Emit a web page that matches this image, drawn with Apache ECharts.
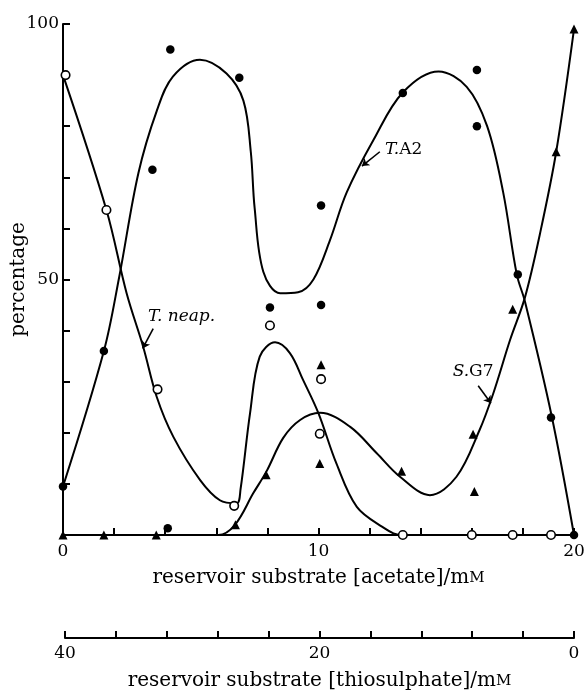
<!DOCTYPE html>
<html>
<head>
<meta charset="utf-8">
<script src="https://cdn.jsdelivr.net/npm/echarts@6/dist/echarts.min.js"></script>
<style>
html,body{margin:0;padding:0;background:#fff;}
#c{width:584px;height:694px;}
</style>
</head>
<body>
<div id="c"></div>
<script>
// ---- data ----
// measured points: [acetate mM, percentage]
var ta2Points = [[0,9.5],[1.6,36],[3.5,71.5],[4.1,1.3],[4.2,95],[6.9,89.5],[8.1,44.5],[10.1,45],[10.1,64.5],[13.3,86.5],[16.2,91],[16.2,80],[17.8,51],[19.1,23],[20,0]];
var neapPoints = [[0.1,90],[1.7,63.6],[3.7,28.5],[6.7,5.7],[8.1,41],[10.1,30.5],[10.05,19.8],[13.3,0],[16.0,0],[17.6,0],[19.1,0]];
var sg7Points = [[0,0],[1.6,0],[3.65,0],[6.75,2],[7.95,11.8],[10.1,33.3],[10.05,14],[13.25,12.5],[16.05,19.7],[16.1,8.5],[17.6,44.2],[19.3,75],[20,99]];

// fitted curves (knots)
var ta2Curve = [[0,9.5],[1.6,36],[2.2,50.5],[2.95,70.8],[3.67,83],[4.3,89.7],[5.36,93],[6.4,90.3],[7.06,85],[7.35,75],[7.5,64],[7.84,51.5],[8.5,47.3],[9.2,47.5],[9.8,50],[10.45,57.7],[11.1,67],[12.15,77.3],[13.3,86.6],[14.7,90.7],[15.8,87.7],[16.6,80],[17.23,67],[17.76,51],[18.08,45.7],[19.13,23.2],[20,0]];
var neapCurve = [[0,90],[1.7,63.6],[2.49,47.3],[3.14,36.8],[3.67,27],[4.32,19.2],[5.36,10.8],[6.14,6.8],[6.8,6.2],[6.95,9],[7.32,23.8],[7.7,34.9],[8.3,37.7],[8.88,35.6],[9.4,30.3],[10.0,23.8],[10.7,14],[11.5,5.5],[12.5,1.6],[13.2,0],[20,0]];
var sg7Curve = [[0,0],[6.08,0],[6.73,2],[7.45,8.2],[7.97,12.5],[8.62,19],[9.28,22.5],[10.06,23.9],[11.23,21.2],[12.28,16],[13.19,11.4],[14.36,7.8],[15.4,11.4],[16.3,20.5],[16.84,27.7],[17.5,38.2],[18.08,46.5],[18.67,59],[19.3,74.9],[20,99]];

// axis tick labels
var acetateLabels = [0,10,20];
var thioLabels = [40,20,0];
var pctLabels = [50,100];

// annotations: [x, y] of label, arrow from -> to
var annotations = [
  {text:'{i|T.}{r|A2}', at:[12.6,75.4], from:[12.4,75], to:[11.7,72.2]},
  {text:'{i|T. neap.}', at:[3.33,42.7], from:[3.53,40.4], to:[3.12,36.5]},
  {text:'{i|S.}{r|G7}', at:[15.25,32], from:[16.25,29.2], to:[16.75,25.8]}
];

var FONT = 'DejaVu Serif';
var INK = '#000';

var chart = echarts.init(document.getElementById('c'), null, {renderer:'canvas'});

function lineSeries(name, data){
  return {name:name, type:'line', data:data, smooth:0.35, showSymbol:false, symbol:'none',
    lineStyle:{color:INK, width:2}, z:2, silent:true, animation:false};
}

var option = {
  animation:false,
  backgroundColor:'#fff',
  grid:[
    {left:63, right:10, top:24, bottom:159, containLabel:false, outerBoundsMode:'none'},
    {left:65, right:10, top:637, height:1, containLabel:false, outerBoundsMode:'none'}
  ],
  xAxis:[
    {type:'value', gridIndex:0, min:0, max:20, interval:2,
     axisLine:{show:true, onZero:false, lineStyle:{color:INK, width:2}},
     axisTick:{show:true, inside:true, length:7, lineStyle:{color:INK, width:2}},
     splitLine:{show:false},
     axisLabel:{margin:8, color:INK, fontFamily:FONT, fontSize:17, hideOverlap:false,
       formatter:function(v){return acetateLabels.indexOf(v)>=0 ? String(v) : '';}},
     name:'{a|reservoir substrate [acetate]/m}{b|M}', nameLocation:'middle', nameGap:33, nameMoveOverlap:false,
     nameTextStyle:{rich:{a:{fontFamily:FONT, fontSize:20, color:INK}, b:{fontFamily:FONT, fontSize:15, color:INK}}}
    },
    {type:'value', gridIndex:1, min:0, max:40, interval:4, inverse:true, position:'bottom',
     axisLine:{show:true, onZero:false, lineStyle:{color:INK, width:2}},
     axisTick:{show:true, inside:true, length:7, lineStyle:{color:INK, width:2}},
     splitLine:{show:false},
     axisLabel:{margin:7, color:INK, fontFamily:FONT, fontSize:17, hideOverlap:false,
       formatter:function(v){return thioLabels.indexOf(v)>=0 ? String(v) : '';}},
     name:'{a|reservoir substrate [thiosulphate]/m}{b|M}', nameLocation:'middle', nameGap:33, nameMoveOverlap:false,
     nameTextStyle:{rich:{a:{fontFamily:FONT, fontSize:20, color:INK}, b:{fontFamily:FONT, fontSize:15, color:INK}}}
    }
  ],
  yAxis:[
    {type:'value', gridIndex:0, min:0, max:100, interval:10,
     axisLine:{show:true, onZero:false, lineStyle:{color:INK, width:2}},
     axisTick:{show:true, inside:true, length:7, lineStyle:{color:INK, width:2}},
     splitLine:{show:false},
     axisLabel:{margin:4, color:INK, fontFamily:FONT, fontSize:17,
       formatter:function(v){return pctLabels.indexOf(v)>=0 ? String(v) : '';}},
     name:'percentage', nameLocation:'middle', nameGap:34, nameMoveOverlap:false,
     nameTextStyle:{fontFamily:FONT, fontSize:20, color:INK}
    },
    {type:'value', gridIndex:1, min:0, max:1, show:false}
  ],
  series:[
    lineSeries('T.A2 curve', ta2Curve),
    lineSeries('T. neap. curve', neapCurve),
    lineSeries('S.G7 curve', sg7Curve),
    {name:'T.A2', type:'scatter', data:ta2Points, symbol:'circle', symbolSize:8.5,
     itemStyle:{color:INK, opacity:1}, z:4, silent:true},
    {name:'T. neap.', type:'scatter', data:neapPoints, symbol:'circle', symbolSize:8.5,
     itemStyle:{color:'#fff', borderColor:INK, borderWidth:1.6, opacity:1}, z:4, silent:true},
    {name:'S.G7', type:'scatter', data:sg7Points, symbol:'triangle', symbolSize:9,
     itemStyle:{color:INK, opacity:1}, z:4, silent:true},
    {name:'arrows', type:'lines', coordinateSystem:'cartesian2d', xAxisIndex:0, yAxisIndex:0,
     symbol:['none','arrow'], symbolSize:7, z:5, silent:true,
     lineStyle:{color:INK, width:1.6, opacity:1},
     data:annotations.map(function(a){return {coords:[a.from, a.to]};})},
    {name:'labels', type:'scatter', symbolSize:0, z:6, silent:true,
     itemStyle:{opacity:1},
     data:annotations.map(function(a){return {value:a.at, label:{formatter:a.text}};}),
     label:{show:true, position:'right', distance:0,
       rich:{i:{fontFamily:FONT, fontStyle:'italic', fontSize:17, color:INK},
             r:{fontFamily:FONT, fontSize:17, color:INK}}}}
  ]
};
chart.setOption(option);
</script>
</body>
</html>
